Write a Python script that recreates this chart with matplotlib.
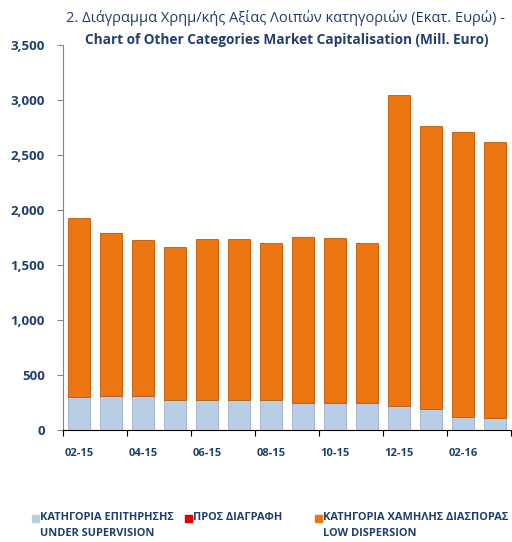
import numpy as np
import matplotlib.pyplot as plt
from matplotlib.patches import Rectangle

plt.rcParams['font.family'] = ['Open Sans', 'DejaVu Sans']

# donnees (Mill. Euro)
mois = ['02-15', '03-15', '04-15', '05-15', '06-15', '07-15', '08-15',
        '09-15', '10-15', '11-15', '12-15', '01-16', '02-16', '03-16']
total = [1927, 1790, 1727, 1664, 1736, 1736, 1700, 1755, 1745, 1700,
         3045, 2764, 2709, 2618]
supervision = [300, 309, 309, 273, 273, 273, 273, 245, 245, 245,
               218, 191, 118, 109]
diagrafi = [0, 0, 0, 0, 0, 0, 0, 0, 0, 0, 0, 0, 0, 0]
yticks = [0, 500, 1000, 1500, 2000, 2500, 3000, 3500]

low_disp = np.array(total) - np.array(supervision) - np.array(diagrafi)

c_blue = '#B9CDE5'
c_red = '#E00000'
c_orange = '#EC7411'
c_txt = '#1F3F6E'

fig = plt.figure(figsize=(5.12, 5.42), dpi=100)
ax = fig.add_axes([63/512, 1-430/542, 448/512, 385/542])

x = np.arange(len(mois))
w = 0.7
ax.bar(x, supervision, w, color=c_blue, edgecolor='#9AAFC8', linewidth=0.6)
ax.bar(x, diagrafi, w, bottom=supervision, color=c_red, linewidth=0)
ax.bar(x, low_disp, w, bottom=np.array(supervision) + np.array(diagrafi),
       color=c_orange, edgecolor='#B85A0C', linewidth=0.6)

ax.set_xlim(-0.5, len(mois) - 0.5)
ax.set_ylim(0, 3500)
ax.set_yticks(yticks)
ax.set_yticklabels(['{:,}'.format(v) for v in yticks], color=c_txt,
                   fontsize=9.5, fontweight='bold')
ax.tick_params(axis='y', length=4, color='#8080A0', pad=9)

# ticks entre les barres, labels sous une barre sur deux
ax.set_xticks(np.arange(-0.5, len(mois), 2))
ax.set_xticklabels([])
ax.set_xticks(x[::2], minor=True)
ax.set_xticklabels(mois[::2], minor=True, color=c_txt, fontsize=8,
                   fontweight='bold')
ax.tick_params(axis='x', which='major', length=4, color='black')
ax.tick_params(axis='x', which='minor', length=0, pad=13)

for s in ['top', 'right']:
    ax.spines[s].set_visible(False)
ax.spines['left'].set_color('#8080A0')
ax.spines['bottom'].set_color('black')

fig.text(285/512, 1-18/542,
         '2. Διάγραμμα Χρημ/κής Αξίας Λοιπών κατηγοριών (Εκατ. Ευρώ) -',
         ha='center', va='center', fontsize=10.5, color=c_txt)
fig.text(287/512, 1-40/542,
         'Chart of Other Categories Market Capitalisation (Mill. Euro)',
         ha='center', va='center', fontsize=9.8, color=c_txt,
         fontweight='bold')

# legende
leg = [(32, c_blue, 'ΚΑΤΗΓΟΡΙΑ ΕΠΙΤΗΡΗΣΗΣ', 'UNDER SUPERVISION'),
       (185, c_red, 'ΠΡΟΣ ΔΙΑΓΡΑΦΗ', ''),
       (315, c_orange, 'ΚΑΤΗΓΟΡΙΑ ΧΑΜΗΛΗΣ ΔΙΑΣΠΟΡΑΣ', 'LOW DISPERSION')]
for px, col, l1, l2 in leg:
    fig.add_artist(Rectangle((px/512, 1-522/542), 7/512, 7/542,
                             transform=fig.transFigure, color=col))
    fig.text((px + 8)/512, 1-518/542, l1, fontsize=7.9, color=c_txt,
             fontweight='bold', va='center')
    if l2:
        fig.text((px + 8)/512, 1-534/542, l2, fontsize=7.9, color=c_txt,
                 fontweight='bold', va='center')

fig.savefig('out.png', dpi=100)
